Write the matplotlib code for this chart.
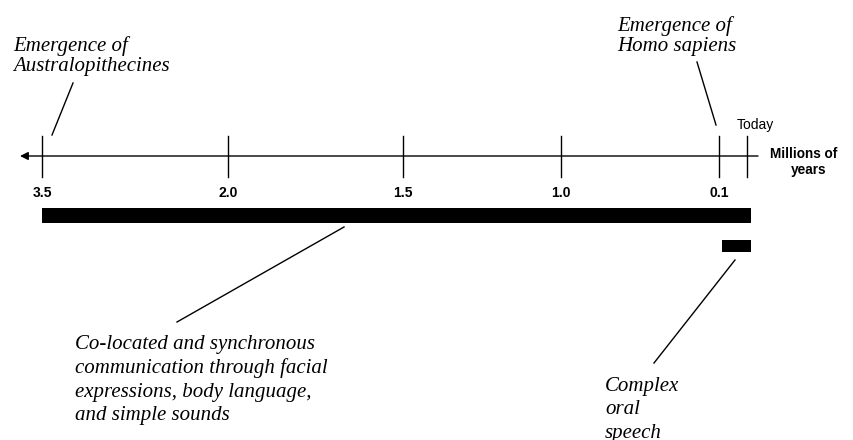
import matplotlib.pyplot as plt

# timeline ticks (schematic, not to scale)
tick_labels = ['3.5', '2.0', '1.5', '1.0', '0.1']
tick_x = [42, 228, 403, 561, 719]
today_x = 747

# communication periods: (start x, end x, bar centre y, height)
bar_left = [42, 722]
bar_right = [751, 751]
bar_y = [216, 246]
bar_h = [15, 12]

serif = ['Liberation Serif', 'DejaVu Serif']
sans = ['Liberation Sans', 'DejaVu Sans']

fig = plt.figure(figsize=(8.54, 4.40), dpi=100)
ax = fig.add_axes([0, 0, 1, 1])
ax.set_xlim(0, 854)
ax.set_ylim(440, 0)
ax.axis('off')

# main axis with arrow pointing to the past
ax.annotate('', xy=(20, 156), xytext=(758, 156),
            arrowprops=dict(arrowstyle='-|>', color='black', lw=1.0,
                            mutation_scale=12, shrinkA=0, shrinkB=0))

for x, lab in zip(tick_x, tick_labels):
    ax.plot([x, x], [136, 177], color='black', lw=1.0)
    ax.text(x, 193, lab, ha='center', va='center', fontsize=10,
            fontweight='bold', family=sans)
ax.plot([today_x, today_x], [136, 177], color='black', lw=1.0)
ax.text(today_x + 8, 125, 'Today', ha='center', va='center', fontsize=10, family=sans)
ax.text(804, 154, 'Millions of', ha='center', va='center', fontsize=9.8,
        fontweight='bold', family=sans)
ax.text(809, 170, 'years', ha='center', va='center', fontsize=9.8,
        fontweight='bold', family=sans)

for l, r, y, h in zip(bar_left, bar_right, bar_y, bar_h):
    ax.barh(y, r - l, left=l, height=h, color='black')

# annotations
ax.text(13, 56, 'Emergence of\nAustralopithecines', ha='left', va='center',
        fontsize=15, style='italic', family=serif, linespacing=1.12)
ax.plot([73, 52], [83, 135], color='black', lw=1.0)

ax.text(617, 36, 'Emergence of\nHomo sapiens', ha='left', va='center',
        fontsize=15, style='italic', family=serif, linespacing=1.08)
ax.plot([697, 716], [62, 125], color='black', lw=1.0)

ax.text(75, 380, 'Co-located and synchronous\ncommunication through facial\n'
        'expressions, body language,\nand simple sounds', ha='left', va='center',
        fontsize=15, style='italic', family=serif, linespacing=1.3)
ax.plot([344, 177], [227, 322], color='black', lw=1.0)

ax.text(605, 410, 'Complex\noral\nspeech', ha='left', va='center',
        fontsize=15, style='italic', family=serif, linespacing=1.3)
ax.plot([735, 654], [260, 363], color='black', lw=1.0)

fig.savefig('out.png', dpi=100)
